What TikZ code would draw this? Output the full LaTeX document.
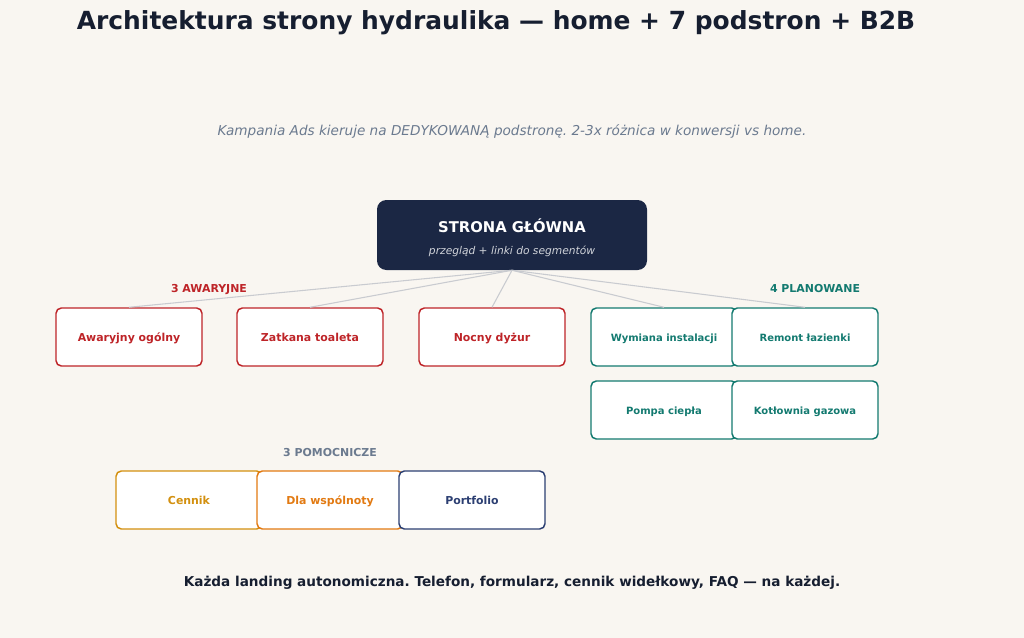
\documentclass[tikz,border=0pt]{standalone}
\usepackage{fontspec}
\setmainfont{DejaVu Sans}
\usepackage{tikz}
\usetikzlibrary{positioning}
\frenchspacing
\definecolor{bgcol}{HTML}{F9F6F1}
\definecolor{navy}{HTML}{1B2744}
\definecolor{ink}{HTML}{161E30}
\definecolor{greytxt}{HTML}{6B7A8F}
\definecolor{redc}{HTML}{BE2428}
\definecolor{tealc}{HTML}{137A70}
\definecolor{goldc}{HTML}{D3900F}
\definecolor{orangec}{HTML}{E27A12}
\definecolor{bluec}{HTML}{2C3F72}
\definecolor{linkc}{HTML}{C9CBD0}
\tikzset{
  page/.style={x=0.75pt,y=-0.75pt},
  pagebox/.style={draw=#1,text=#1,fill=white,line width=1.1pt,rounded corners=4pt,
    minimum width=109.5pt,minimum height=43.5pt,text height=8.5pt,text depth=1.5pt,
    font=\bfseries\fontsize{8.2}{10}\selectfont},
  planbox/.style={pagebox=tealc,font=\bfseries\fontsize{7.5}{9}\selectfont},
  grouplabel/.style={text=#1,text height=8.5pt,text depth=1.5pt,font=\bfseries\fontsize{8.2}{10}\selectfont},
  link/.style={draw=linkc,line width=0.8pt}
}
\begin{document}
\begin{tikzpicture}[page]
%%Location
\useasboundingbox[fill=bgcol] (0,0) rectangle (1024,638);
%%Title
\node[text height=13pt,text depth=3.5pt] (title) at (496,23) {\color{ink}\bfseries\fontsize{18.7}{22}\selectfont Architektura strony hydraulika — home + 7 podstron + B2B};
\node[text height=7.5pt,text depth=2pt] (sub) at (512,132) {\color{greytxt}\itshape\fontsize{10.2}{12}\selectfont Kampania Ads kieruje na DEDYKOWANĄ podstronę. 2-3x różnica w konwersji vs home.};
%%Home
\node[fill=navy,rounded corners=7pt,minimum width=202.5pt,minimum height=52.5pt] (home) at (512,235) {};
\node[text=white,text height=8pt,text depth=0pt,font=\bfseries\fontsize{11.1}{14}\selectfont] (hometitle) at (512,227) {STRONA GŁÓWNA};
\node[text=white!80!navy,text height=6pt,text depth=1.6pt,font=\itshape\fontsize{8}{10}\selectfont] (homesub) at (512,252) {przegląd + linki do segmentów};
%%Segments
\node[grouplabel=redc] (awlabel) at (209,288) {3 AWARYJNE};
\node[grouplabel=tealc] (pllabel) at (815,288) {4 PLANOWANE};
\node[grouplabel=greytxt] (pomlabel) at (330,452) {3 POMOCNICZE};

\node[pagebox=redc] (aw1) at (129,337) {Awaryjny ogólny};
\node[pagebox=redc] (aw2) at (310,337) {Zatkana toaleta};
\node[pagebox=redc] (aw3) at (492,337) {Nocny dyżur};

\node[planbox] (pl1) at (664,337) {Wymiana instalacji};
\node[planbox] (pl2) at (805,337) {Remont łazienki};
\node[planbox] (pl3) at (664,410) {Pompa ciepła};
\node[planbox] (pl4) at (805,410) {Kotłownia gazowa};

\node[pagebox=goldc] (pom1) at (189,500) {Cennik};
\node[pagebox=orangec] (pom2) at (330,500) {Dla wspólnoty};
\node[pagebox=bluec] (pom3) at (472,500) {Portfolio};
%%Links
\foreach \t in {aw1,aw2,aw3,pl1,pl2}
  \draw[link] (home.south) -- (\t.north);
%%Footer
\node[text height=7.5pt,text depth=2pt] (foot) at (512,583) {\color{ink}\bfseries\fontsize{10.2}{12}\selectfont Każda landing autonomiczna. Telefon, formularz, cennik widełkowy, FAQ — na każdej.};
\end{tikzpicture}
\end{document}
